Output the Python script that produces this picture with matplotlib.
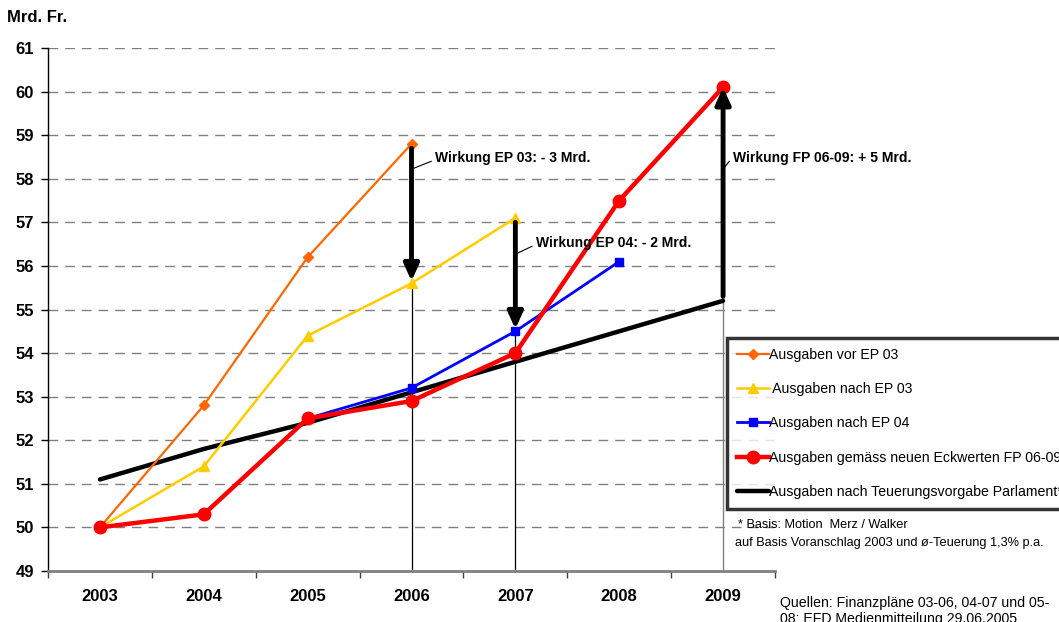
import numpy as np
import matplotlib
matplotlib.use('Agg')
import matplotlib.pyplot as plt
import matplotlib.ticker as ticker

plt.rcParams['font.family'] = ['Liberation Sans', 'DejaVu Sans']

## data (Mrd. Fr.)
years = ['2003', '2004', '2005', '2006', '2007', '2008', '2009']
vor_ep03 = [50.0, 52.8, 56.2, 58.8, np.nan, np.nan, np.nan]
nach_ep03 = [50.0, 51.4, 54.4, 55.6, 57.1, np.nan, np.nan]
nach_ep04 = [np.nan, np.nan, 52.5, 53.2, 54.5, 56.1, np.nan]
fp0609 = [50.0, 50.3, 52.5, 52.9, 54.0, 57.5, 60.1]
teuerung = [51.1, 51.8, 52.4, 53.1, 53.8, 54.5, 55.2]

# arrows: (year index, from, to, label)
wirkung = [(3, 58.7, 55.65, 'Wirkung EP 03: - 3 Mrd.'),
           (4, 57.0, 54.55, 'Wirkung EP 04: - 2 Mrd.'),
           (6, 55.3, 60.1, 'Wirkung FP 06-09: + 5 Mrd.')]
label_pos = [(3.23, 58.47), (4.2, 56.52), (6.1, 58.47)]

yticks = np.arange(49, 62)

fig = plt.figure(figsize=(10.59, 6.22), dpi=100)
ax = fig.add_axes([48/1059, 1-571/622, 727/1059, 523/622])

x = np.arange(len(years))
c_or = '#FF6600'
c_ye = '#FFCC00'
c_bl = '#0000FF'
c_rd = '#FF0000'

ax.plot(x, vor_ep03, color=c_or, lw=1.6, marker='D', ms=5, label='Ausgaben vor EP 03', zorder=4)
ax.plot(x, nach_ep03, color=c_ye, lw=1.8, marker='^', ms=7, label=' Ausgaben nach EP 03', zorder=4)
ax.plot(x, nach_ep04, color=c_bl, lw=2.0, marker='s', ms=6, label='Ausgaben nach EP 04', zorder=4)
ax.plot(x, fp0609, color=c_rd, lw=3.2, marker='o', ms=9, label='Ausgaben gemäss neuen Eckwerten FP 06-09', zorder=5)
ax.plot(x, teuerung, color='black', lw=3.2, solid_capstyle='round',
        label='Ausgaben nach Teuerungsvorgabe Parlament*', zorder=3)

# thin verticals down to the axis
ax.plot([3, 3], [49, wirkung[0][2]], color='black', lw=0.9, zorder=2)
ax.plot([4, 4], [49, wirkung[1][2]], color='black', lw=0.9, zorder=2)
ax.plot([6, 6], [49, teuerung[6]], color='#808080', lw=1.0, zorder=2)

for (i, y0, y1, txt), (tx, ty) in zip(wirkung, label_pos):
    ax.annotate('', xy=(i, y1), xytext=(i, y0),
                arrowprops=dict(arrowstyle='-|>,head_length=1.0,head_width=0.45', color='black',
                                lw=3.5, shrinkA=0, shrinkB=0), zorder=6)
    ax.text(tx, ty, txt, fontsize=10, fontweight='bold', va='center', ha='left', zorder=7)
    ax.plot([i, tx - 0.04], [ty - 0.25, ty - 0.07], color='black', lw=0.8, zorder=7)

ax.set_xlim(-0.5, 6.5)
ax.set_ylim(49, 61)
ax.yaxis.set_major_locator(ticker.FixedLocator(yticks))
ax.set_yticklabels([str(v) for v in yticks], fontsize=12, fontweight='bold')
ax.xaxis.set_major_locator(ticker.FixedLocator(np.arange(-0.5, 7, 1)))
ax.xaxis.set_major_formatter(ticker.NullFormatter())
ax.xaxis.set_minor_locator(ticker.FixedLocator(x))
ax.set_xticklabels(years, minor=True, fontsize=12, fontweight='bold')
ax.tick_params(axis='x', which='minor', length=0, pad=13)
ax.tick_params(axis='x', which='major', length=5, width=1, color='#404040')
ax.tick_params(axis='y', length=5, width=1, pad=5)

for v in yticks[1:]:
    ax.axhline(v, color='#808080', lw=1, dashes=(7, 5), zorder=1)

for s in ['top', 'right']:
    ax.spines[s].set_visible(False)
ax.spines['left'].set_linewidth(1)
ax.spines['bottom'].set_color('#808080')
ax.spines['bottom'].set_linewidth(2)

fig.text(7/1059, 1-17/622, 'Mrd. Fr.', fontsize=12, fontweight='bold', va='center')

handles, labels = ax.get_legend_handles_labels()
leg = fig.legend(handles, labels, loc='upper left', bbox_to_anchor=(727/1059, 1-338/622),
                 fontsize=10.2, frameon=True, fancybox=False, edgecolor='black',
                 handlelength=2.25, handletextpad=0.0, labelspacing=1.42, borderpad=0.72,
                 borderaxespad=0)
leg.get_frame().set_linewidth(2.5)

fig.text(738/1059, 1-525/622, '* Basis: Motion  Merz / Walker', fontsize=9.2, va='center')
fig.text(735/1059, 1-543/622, 'auf Basis Voranschlag 2003 und ø-Teuerung 1,3% p.a.', fontsize=9.2, va='center')
fig.text(780/1059, 1-611/622, 'Quellen: Finanzpläne 03-06, 04-07 und 05-\n08; EFD Medienmitteilung 29.06.2005',
         fontsize=10.2, va='center', linespacing=1.1)

fig.savefig('out.png', dpi=100)
